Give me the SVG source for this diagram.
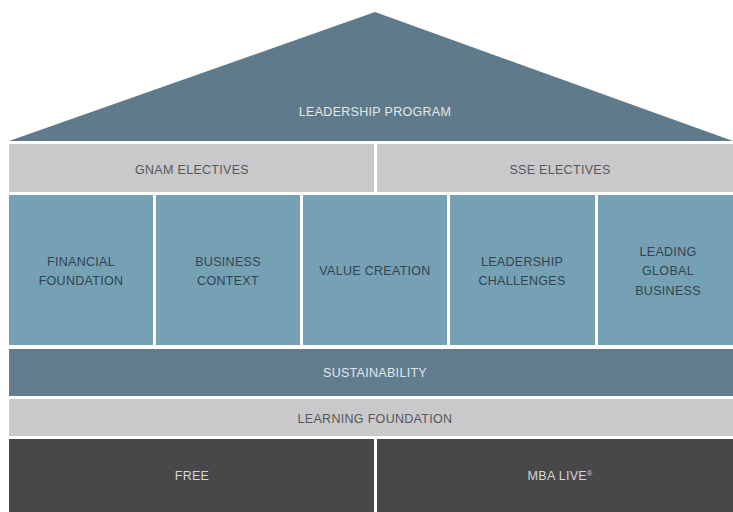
<svg xmlns="http://www.w3.org/2000/svg" width="733" height="512" viewBox="0 0 733 512">
<style>
text{font-family:"Liberation Sans Narrow","Liberation Sans",Arial,sans-serif;font-size:12.5px;text-anchor:middle;dominant-baseline:central;letter-spacing:0.3px}
.roof{fill:#5f7a8b}
.grey{fill:#c9c9cc}
.col{fill:#76a1b5}
.sus{fill:#617c8c}
.dark{fill:#48484b}
.tl{fill:#e2e8ec}
.tg{fill:#57585a}
.tc{fill:#33434e}
.td{fill:#d6d6d8}
</style>
<rect width="733" height="512" fill="#ffffff"/>
<g id="leadership-program">
<polygon class="roof" points="9,141 375,12 733,141"/>
<text class="tl" x="375" y="112">LEADERSHIP PROGRAM</text>
</g>
<g id="gnam-electives">
<rect class="grey" x="9" y="144" width="365" height="48"/>
<text class="tg" x="192" y="170">GNAM ELECTIVES</text>
</g>
<g id="sse-electives">
<rect class="grey" x="377" y="144" width="356" height="48"/>
<text class="tg" x="560" y="170">SSE ELECTIVES</text>
</g>
<g id="financial-foundation">
<rect class="col" x="9" y="195" width="144" height="150"/>
<text class="tc" x="81" y="262">FINANCIAL</text>
<text class="tc" x="81" y="281">FOUNDATION</text>
</g>
<g id="business-context">
<rect class="col" x="156" y="195" width="144" height="150"/>
<text class="tc" x="228" y="262">BUSINESS</text>
<text class="tc" x="228" y="281">CONTEXT</text>
</g>
<g id="value-creation">
<rect class="col" x="303" y="195" width="144" height="150"/>
<text class="tc" x="375" y="271">VALUE CREATION</text>
</g>
<g id="leadership-challenges">
<rect class="col" x="450" y="195" width="145" height="150"/>
<text class="tc" x="522" y="262">LEADERSHIP</text>
<text class="tc" x="522" y="281">CHALLENGES</text>
</g>
<g id="leading-global-business">
<rect class="col" x="598" y="195" width="135" height="150"/>
<text class="tc" x="668" y="252">LEADING</text>
<text class="tc" x="668" y="271">GLOBAL</text>
<text class="tc" x="668" y="291">BUSINESS</text>
</g>
<g id="sustainability">
<rect class="sus" x="9" y="349" width="724" height="47"/>
<text class="tl" x="375" y="373">SUSTAINABILITY</text>
</g>
<g id="learning-foundation">
<rect class="grey" x="9" y="399" width="724" height="37"/>
<text class="tg" x="375" y="419">LEARNING FOUNDATION</text>
</g>
<g id="free">
<rect class="dark" x="9" y="439" width="365" height="73"/>
<text class="td" x="192" y="476">FREE</text>
</g>
<g id="mba-live">
<rect class="dark" x="377" y="439" width="356" height="73"/>
<text class="td" x="560" y="476">MBA LIVE<tspan font-size="7" dy="-3">®</tspan></text>
</g>
<g id="connectors"></g>
</svg>
